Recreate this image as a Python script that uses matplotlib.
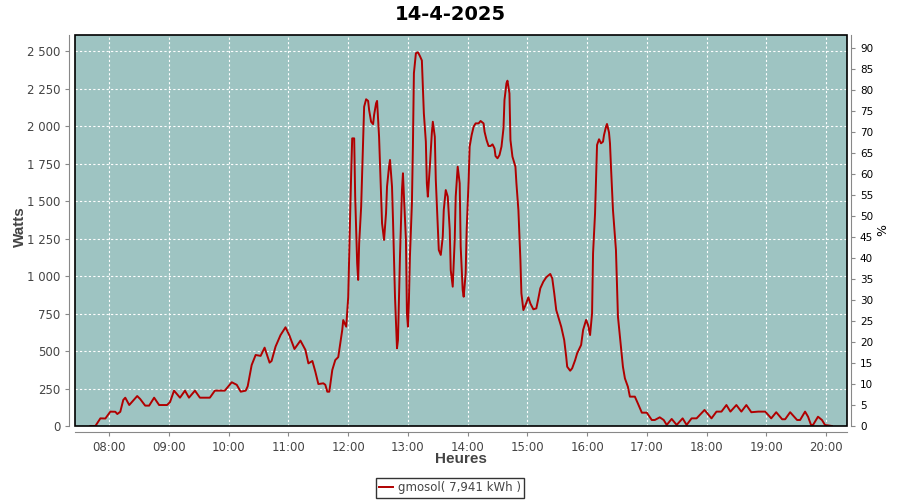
import pandas as pd
import matplotlib
matplotlib.use("Agg")
import matplotlib.pyplot as plt
import matplotlib.dates as mdates
from matplotlib.patches import Rectangle
from matplotlib.ticker import FuncFormatter, MultipleLocator

################################
#### data
################################

day = "2025-04-14"
title = "14-4-2025"
serie_label = "gmosol( 7,941 kWh )"

heures = ["07:41", "07:46", "07:51", "07:56", "08:01", "08:06", "08:08", "08:11", "08:14", "08:16",
          "08:20", "08:28", "08:31", "08:36", "08:40", "08:45", "08:50", "08:58", "09:01", "09:05",
          "09:11", "09:16", "09:20", "09:26", "09:31", "09:41", "09:46", "09:56", "10:03", "10:08",
          "10:12", "10:17", "10:19", "10:23", "10:27", "10:32", "10:36", "10:41", "10:43", "10:47",
          "10:52", "10:57", "11:01", "11:06", "11:12", "11:17", "11:20", "11:24", "11:27", "11:30",
          "11:35", "11:37", "11:39", "11:41", "11:44", "11:47", "11:50", "11:54", "11:55", "11:58",
          "12:00", "12:01", "12:02", "12:03", "12:04", "12:06", "12:07", "12:09", "12:10", "12:11",
          "12:13", "12:15", "12:16", "12:18", "12:20", "12:21", "12:23", "12:25", "12:26", "12:28",
          "12:29", "12:31", "12:33", "12:34", "12:36", "12:38", "12:39", "12:41", "12:42", "12:44",
          "12:45", "12:47", "12:49", "12:50", "12:52", "12:54", "12:55", "12:56", "12:58", "12:59",
          "13:00", "13:01", "13:02", "13:04", "13:05", "13:06", "13:08", "13:10", "13:12", "13:14",
          "13:15", "13:16", "13:18", "13:19", "13:20", "13:22", "13:24", "13:25", "13:27", "13:28",
          "13:30", "13:31", "13:33", "13:35", "13:36", "13:38", "13:40", "13:42", "13:43", "13:45",
          "13:47", "13:48", "13:50", "13:52", "13:53", "13:55", "13:56", "13:58", "13:59", "14:01",
          "14:02", "14:04", "14:06", "14:08", "14:11", "14:13", "14:16", "14:17", "14:19", "14:21",
          "14:23", "14:25", "14:27", "14:28", "14:30", "14:32", "14:34", "14:36", "14:37", "14:39",
          "14:40", "14:42", "14:43", "14:45", "14:48", "14:49", "14:51", "14:53", "14:54", "14:56",
          "14:58", "15:01", "15:03", "15:06", "15:09", "15:11", "15:13", "15:16", "15:19", "15:23",
          "15:25", "15:27", "15:29", "15:32", "15:34", "15:37", "15:39", "15:40", "15:43", "15:45",
          "15:48", "15:50", "15:54", "15:56", "15:59", "16:01", "16:03", "16:05", "16:06", "16:08",
          "16:09", "16:10", "16:12", "16:14", "16:16", "16:17", "16:19", "16:20", "16:22", "16:23",
          "16:24", "16:26", "16:29", "16:31", "16:34", "16:36", "16:38", "16:41", "16:43", "16:48",
          "16:51", "16:55", "17:00", "17:05", "17:08", "17:13", "17:17", "17:20", "17:25", "17:30",
          "17:36", "17:40", "17:45", "17:50", "17:58", "18:05", "18:10", "18:15", "18:20", "18:24",
          "18:30", "18:35", "18:40", "18:45", "18:52", "18:59", "19:05", "19:10", "19:16", "19:19",
          "19:24", "19:31", "19:34", "19:39", "19:42", "19:45", "19:47", "19:52", "19:56", "19:59",
          "20:06"]

watts = [0, 0, 51, 50, 96, 95, 80, 95, 174, 189,
         140, 200, 180, 136, 136, 189, 140, 140, 160, 236,
         189, 236, 189, 236, 189, 189, 236, 236, 292, 275,
         229, 236, 265, 407, 474, 468, 523, 423, 434, 530,
         607, 659, 603, 514, 570, 508, 418, 434, 362, 280,
         285, 275, 229, 229, 374, 440, 460, 641, 707, 663,
         860, 1153, 1421, 1689, 1920, 1920, 1531, 1086, 975, 1220,
         1464, 1909, 2131, 2181, 2170, 2109, 2031, 2015, 2076, 2154,
         2170, 1931, 1553, 1353, 1242, 1420, 1598, 1731, 1776, 1598,
         1375, 863, 519, 574, 1130, 1575, 1687, 1531, 1242, 752,
         663, 841, 1130, 1487, 1865, 2355, 2488, 2495, 2470, 2440,
         2265, 2087, 1898, 1620, 1531, 1731, 1954, 2031, 1931, 1642,
         1330, 1175, 1142, 1264, 1442, 1575, 1531, 1308, 1041, 930,
         1242, 1531, 1731, 1620, 1197, 908, 863, 1019, 1308, 1642,
         1865, 1942, 1998, 2020, 2020, 2036, 2020, 1964, 1909, 1869,
         1869, 1880, 1853, 1802, 1787, 1809, 1865, 1987, 2176, 2288,
         2305, 2220, 1909, 1798, 1731, 1620, 1440, 1108, 886, 774,
         805, 859, 818, 779, 785, 850, 919, 963, 993, 1015,
         986, 886, 774, 708, 663, 574, 463, 396, 369, 385,
         440, 485, 541, 641, 708, 674, 607, 752, 1153, 1420,
         1642, 1876, 1914, 1887, 1898, 1942, 1998, 2016, 1960, 1887,
         1731, 1442, 1175, 730, 530, 396, 318, 262, 196, 196,
         151, 89, 89, 40, 40, 58, 40, 7, 47, 7,
         51, 7, 51, 51, 107, 51, 96, 96, 140, 96,
         140, 96, 140, 92, 96, 96, 51, 92, 45, 45,
         92, 40, 40, 96, 62, 7, 7, 62, 40, 7,
         0]

pct_ticks = list(range(0, 95, 5))

################################
#### figure
################################

plt.rcParams['font.family'] = ['DejaVu Sans']

t = pd.to_datetime([day + " " + h for h in heures])

fig = plt.figure(figsize=(9, 5), dpi=100)
ax = fig.add_axes([75 / 900, 74 / 500, 771.7 / 900, 391 / 500])
ax.set_facecolor('#9ec4c2')

line, = ax.plot(t, watts, color='#b00000', linewidth=1.4, label=serie_label, zorder=3)

ax.set_xlim(pd.Timestamp(day + " 07:25:30"), pd.Timestamp(day + " 20:20:50"))
ax.set_ylim(0, 2610)
ax.yaxis.set_major_locator(MultipleLocator(250))
ax.yaxis.set_major_formatter(FuncFormatter(lambda v, p: f"{int(v):,}".replace(",", " ")))
ax.xaxis.set_major_locator(mdates.HourLocator(byhour=range(8, 21)))
ax.xaxis.set_major_formatter(mdates.DateFormatter('%H:%M'))

ax.grid(True, color='white', linestyle=(0, (2, 2)), linewidth=0.8)
ax.set_axisbelow(True)

# gray axis lines pushed out a little, black plot border
for side in ['top', 'right']:
    ax.spines[side].set_visible(False)
for side in ['left', 'bottom']:
    ax.spines[side].set_position(('outward', 4))
    ax.spines[side].set_color('#888888')
ax.add_patch(Rectangle((0, 0), 1, 1, transform=ax.transAxes, fill=False,
                       edgecolor='black', linewidth=1.2, clip_on=False, zorder=5))
ax.tick_params(axis='both', direction='out', length=3, color='#888888',
               labelsize=8.5, labelcolor='#444444')

lab_font = dict(fontsize=11, fontweight='bold', color='#444444', family='Liberation Sans')
ax.set_ylabel('Watts', **lab_font)
ax.yaxis.set_label_coords(-0.062, 0.51)
ax.set_xlabel('Heures', **lab_font)
ax.xaxis.set_label_coords(0.5, -0.067)

# percent axis on the right
ax2 = ax.twinx()
ax2.set_ylim(0, 93.2)
ax2.set_yticks(pct_ticks)
for side in ['top', 'left', 'bottom']:
    ax2.spines[side].set_visible(False)
ax2.spines['right'].set_position(('outward', 3))
ax2.spines['right'].set_color('#888888')
ax2.tick_params(axis='y', direction='out', length=3, color='#888888',
                labelsize=7.5, labelcolor='black')
ax2.set_ylabel('%', fontsize=9, color='black')
ax2.yaxis.set_label_coords(1.038, 0.5)

fig.suptitle(title, x=0.5, y=1 - 14 / 500, va='center', fontsize=14, fontweight='bold')

leg = fig.legend(handles=[line], loc='center', bbox_to_anchor=(0.5, 1 - 488 / 500),
                 fontsize=8.5, frameon=True, fancybox=False, edgecolor='black',
                 handlelength=1.2, handletextpad=0.4, borderpad=0.3)
leg.get_frame().set_linewidth(1)
for txt in leg.get_texts():
    txt.set_color('#444444')

fig.savefig('out.png', dpi=100)
